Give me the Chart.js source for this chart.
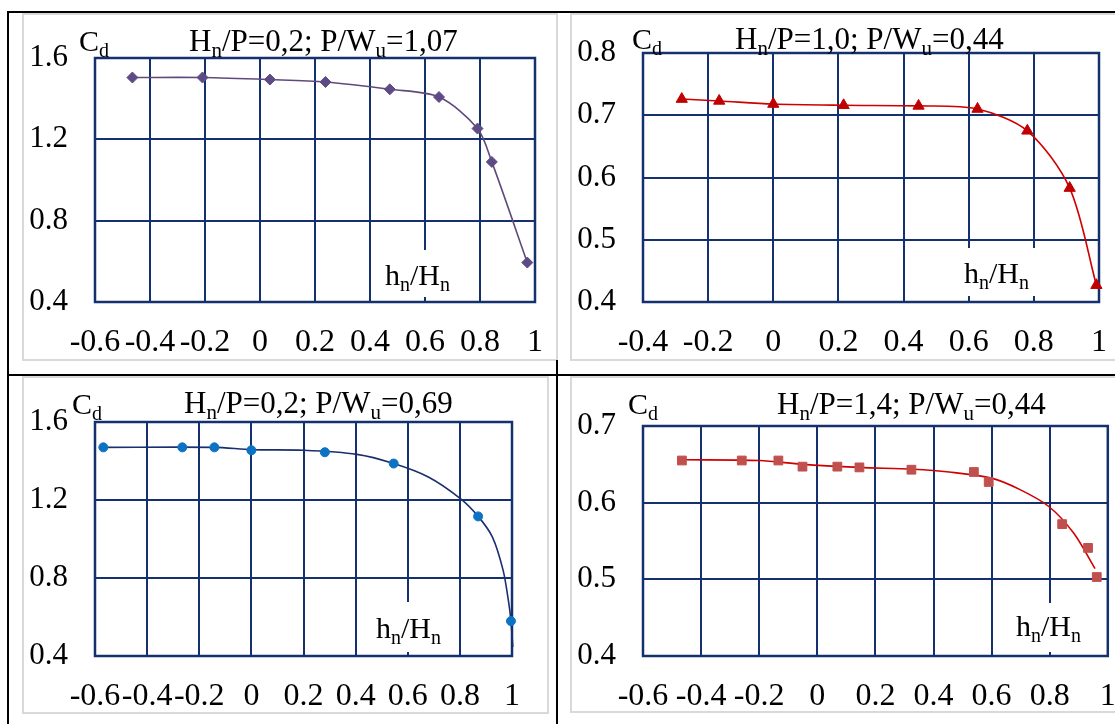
<!DOCTYPE html>
<html><head><meta charset="utf-8">
<script src="https://cdn.jsdelivr.net/npm/chart.js@4.4.0/dist/chart.umd.min.js"></script>
<style>
html,body{margin:0;padding:0;background:#fff;width:1115px;height:724px;overflow:hidden;position:relative}
.ln{position:absolute;background:#000}
.fr{position:absolute;border:2px solid #d9d9d9;box-sizing:border-box}
canvas{position:absolute}
</style></head><body>
<div class="fr" style="left:22px;top:13px;width:536px;height:348px"></div>
<div class="fr" style="left:570px;top:13px;width:600px;height:348px"></div>
<div class="fr" style="left:22px;top:376px;width:527px;height:338px"></div>
<div class="fr" style="left:570px;top:376px;width:600px;height:337px"></div>
<div class="ln" style="left:7px;top:11px;width:2px;height:713px"></div>
<div class="ln" style="left:7px;top:11px;width:1108px;height:2px"></div>
<div class="ln" style="left:7px;top:374px;width:1108px;height:2px"></div>
<div class="ln" style="left:556px;top:360px;width:2px;height:364px"></div>
<script>
// ---- data ----
const p1X  = [-0.464, -0.209, 0.036, 0.238, 0.472, 0.651, 0.791, 0.843, 0.972];
const p1Cd = [1.504, 1.504, 1.494, 1.482, 1.446, 1.408, 1.253, 1.089, 0.594];

const p2X  = [-0.281, -0.166, 0.0, 0.216, 0.446, 0.627, 0.780, 0.910, 0.992];
const p2Cd = [0.726, 0.723, 0.718, 0.716, 0.715, 0.710, 0.675, 0.583, 0.427];

const p3X  = [-0.568, -0.265, -0.142, 0.0, 0.282, 0.546, 0.870, 0.996];
const p3Cd = [1.470, 1.470, 1.470, 1.455, 1.445, 1.387, 1.116, 0.579];
const p3LineX = [-0.568, -0.142, 0.002, 0.2, 0.405, 0.546, 0.679, 0.802, 0.870, 0.925, 0.966, 0.986, 0.996, 1.003];
const p3LineY = [1.470, 1.470, 1.458, 1.455, 1.434, 1.387, 1.318, 1.207, 1.116, 1.010, 0.839, 0.686, 0.579, 0.446];

const p4X  = [-0.466, -0.260, -0.134, -0.051, 0.069, 0.145, 0.324, 0.539, 0.590, 0.843, 0.932, 0.962];
const p4Cd = [0.655, 0.655, 0.655, 0.647, 0.647, 0.646, 0.643, 0.640, 0.627, 0.572, 0.541, 0.503];
const p4LineX = [-0.466, -0.199, -0.051, 0.145, 0.329, 0.453, 0.600, 0.698, 0.797, 0.883, 0.956];
const p4LineY = [0.656, 0.655, 0.650, 0.646, 0.6435, 0.640, 0.632, 0.617, 0.595, 0.560, 0.514];

const titles = [
  ['H','_n','/P=0,2; P/W','_u','=1,07'],
  ['H','_n','/P=1,0; P/W','_u','=0,44'],
  ['H','_n','/P=0,2; P/W','_u','=0,69'],
  ['H','_n','/P=1,4; P/W','_u','=0,44']
];
const yLabel = ['C','_d'];
const xLabel = ['h','_n','/H','_n'];

// ---- drawing ----
const NAVY = '#14306e';
const FONT = '"Liberation Serif", "Times New Roman", serif';
const YW = 70, XH = 60;

function pts(xs, ys){ return xs.map((x,i)=>({x:x, y:ys[i]})); }
function fmt(v){ const r = Math.round(v*10)/10; return (r === 0 ? 0 : r).toString(); }

function drawRich(ctx, x, y, parts, size, color){
  ctx.save();
  ctx.fillStyle = color; ctx.textBaseline = 'alphabetic'; ctx.textAlign = 'left';
  for (const p of parts){
    const sub = p.startsWith('_');
    const t = sub ? p.slice(1) : p;
    ctx.font = (sub ? Math.round(size*0.68) : size) + 'px ' + FONT;
    ctx.fillText(t, x, sub ? y + size*0.2 : y);
    x += ctx.measureText(t).width;
  }
  ctx.restore();
}

function panel(o){
  const cv = document.createElement('canvas');
  cv.width = o.cw; cv.height = o.ch;
  cv.style.left = o.cx + 'px'; cv.style.top = o.cy + 'px';
  cv.style.width = o.cw + 'px'; cv.style.height = o.ch + 'px';
  document.body.appendChild(cv);
  const P = o.plot;
  const pad = {left: P.l - o.cx - YW, top: P.t - o.cy, right: o.cx + o.cw - P.r, bottom: o.cy + o.ch - P.b - XH};
  const deco = {
    id: 'deco',
    beforeDatasetsDraw(chart){
      const ctx = chart.ctx, a = chart.chartArea;
      ctx.save();
      ctx.strokeStyle = NAVY; ctx.lineWidth = 2.5;
      ctx.strokeRect(a.left, a.top, a.right - a.left, a.bottom - a.top);
      const b = o.box;
      ctx.fillStyle = '#fff';
      ctx.fillRect(b[0]-o.cx, b[1]-o.cy, b[2]-b[0], b[3]-b[1]);
      ctx.restore();
      drawRich(ctx, o.title[0]-o.cx, o.title[1]-o.cy, o.titleParts, 31, '#000');
      drawRich(ctx, o.cd[0]-o.cx, o.cd[1]-o.cy, yLabel, 30, '#000');
      drawRich(ctx, o.hl[0]-o.cx, o.hl[1]-o.cy, xLabel, 30, '#000');
    }
  };
  new Chart(cv, {
    type: 'scatter',
    data: { datasets: o.datasets },
    options: {
      responsive: false, animation: false,
      layout: { padding: pad },
      plugins: { legend: {display:false}, tooltip: {enabled:false}, title:{display:false} },
      scales: {
        x: {
          type: 'linear', min: o.xr[0], max: o.xr[1],
          afterFit(s){ s.height = XH; s.paddingLeft = 0; s.paddingRight = 0; },
          ticks: { stepSize: 0.2, autoSkip: false, maxRotation: 0, minRotation: 0, padding: o.xpad,
                   color: '#000', font: {family: FONT, size: 32}, callback: v => fmt(v) },
          grid: { color: NAVY, lineWidth: 2, drawTicks: false },
          border: { display: false }
        },
        y: {
          type: 'linear', min: o.yr[0], max: o.yr[1],
          afterFit(s){ s.width = YW; s.paddingTop = 0; s.paddingBottom = 0; },
          ticks: { stepSize: o.yr[2], autoSkip: false, padding: 27,
                   color: '#000', font: {family: FONT, size: 31}, callback: v => (Math.round(v*10)/10).toFixed(1) },
          grid: { color: NAVY, lineWidth: 2, drawTicks: false },
          border: { display: false }
        }
      }
    },
    plugins: [deco]
  });
}

panel({
  cx: 9, cy: 13, cw: 548, ch: 362,
  plot: {l: 95, t: 58, r: 535, b: 302},
  xr: [-0.6, 1], yr: [0.4, 1.6, 0.4], xpad: 21,
  titleParts: titles[0], title: [189, 51], cd: [79, 51], hl: [385, 285], box: [379, 250, 458, 297],
  datasets: [
    { data: pts(p1X, p1Cd), showLine: false, pointStyle: 'rectRot', pointRadius: 5.5,
      backgroundColor: '#5e4b86', borderColor: '#5e4b86', borderWidth: 1, clip: false },
    { data: pts(p1X, p1Cd), showLine: true, pointRadius: 0, tension: 0.3,
      borderColor: '#604a7b', borderWidth: 1.6, clip: false }
  ]
});

panel({
  cx: 558, cy: 13, cw: 557, ch: 362,
  plot: {l: 643, t: 53, r: 1099, b: 302},
  xr: [-0.4, 1], yr: [0.4, 0.8, 0.1], xpad: 21,
  titleParts: titles[1], title: [735, 49], cd: [632, 49], hl: [964, 283], box: [958, 248, 1038, 296],
  datasets: [
    { data: pts(p2X, p2Cd), showLine: false, pointStyle: 'triangle', pointRadius: 6.5,
      backgroundColor: '#c00000', borderColor: '#c00000', borderWidth: 1, clip: false },
    { data: pts(p2X, p2Cd), showLine: true, pointRadius: 0, tension: 0.3,
      borderColor: '#d00000', borderWidth: 1.6, clip: false }
  ]
});

panel({
  cx: 9, cy: 376, cw: 547, ch: 348,
  plot: {l: 95, t: 422, r: 512, b: 656},
  xr: [-0.6, 1], yr: [0.4, 1.6, 0.4], xpad: 21,
  titleParts: titles[2], title: [184, 413], cd: [72, 414], hl: [376, 638], box: [371, 602, 450, 652],
  datasets: [
    { data: pts(p3X, p3Cd), showLine: false, pointStyle: 'circle', pointRadius: 4.5,
      backgroundColor: '#0b72c4', borderColor: '#0b72c4', borderWidth: 1, clip: false },
    { data: pts(p3LineX, p3LineY), showLine: true, pointRadius: 0, tension: 0.3,
      borderColor: '#1a2f6e', borderWidth: 1.6, clip: false }
  ]
});

panel({
  cx: 558, cy: 376, cw: 557, ch: 348,
  plot: {l: 643, t: 426, r: 1108, b: 656},
  xr: [-0.6, 1], yr: [0.4, 0.7, 0.1], xpad: 21,
  titleParts: titles[3], title: [777, 414], cd: [628, 414], hl: [1016, 636], box: [1010, 603, 1090, 652],
  datasets: [
    { data: pts(p4X, p4Cd), showLine: false, pointStyle: 'rect', pointRadius: 6.2,
      backgroundColor: '#c0504d', borderColor: '#c0504d', borderWidth: 1, clip: false },
    { data: pts(p4LineX, p4LineY), showLine: true, pointRadius: 0, tension: 0.3,
      borderColor: '#d00000', borderWidth: 1.6, clip: false }
  ]
});
</script>
</body></html>
